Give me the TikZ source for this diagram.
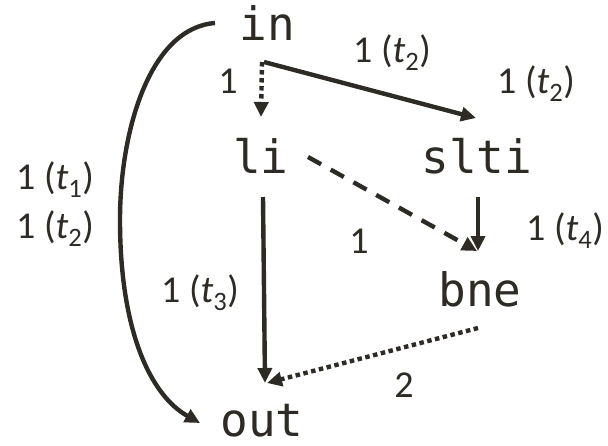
\documentclass[tikz,border=0pt]{standalone}
\usepackage{fontspec}
\setmainfont{Carlito}
\newfontfamily\codefont{DejaVu Sans Mono}
\usetikzlibrary{arrows.meta,calc}
\definecolor{ink}{HTML}{2E2A24}
\tikzset{
  code/.style={font=\codefont\fontsize{46}{50}\selectfont, text=ink, inner sep=0pt, anchor=base},
  lab/.style={font=\fontsize{38}{42}\selectfont, text=ink, inner sep=0pt, anchor=base},
  edge/.style={draw=ink, line width=4.4pt, -{Triangle[length=15pt,width=14pt]}},
  dots/.style={edge, dash pattern=on 4.5pt off 3.5pt},
  dashes/.style={edge, dash pattern=on 15pt off 11pt},
}
\newcommand{\tl}[1]{1 (\textit{t}\textsubscript{#1})}
\begin{document}
\begin{tikzpicture}[x=1pt,y=-1pt]
\useasboundingbox (0,0) rectangle (608,445);
\node[code] (in) at (267,40) {in};
\node[code] (li) at (261,173) {li};
\node[code] (slti) at (477,173) {slti};
\node[code] (bne) at (480,306) {bne};
\node[code] (out) at (262,436) {out};

\node[lab] (l1) at (392,62) {\tl{2}};
\node[lab] (l2) at (536,93) {\tl{2}};
\node[lab] (l3) at (228,93) {1};
\node[lab] (l4) at (55,189) {\tl{1}};
\node[lab] (l5) at (55,238) {\tl{2}};
\node[lab] (l6) at (565,240) {\tl{4}};
\node[lab] (l7) at (359,253) {1};
\node[lab] (l8) at (200,302) {\tl{3}};
\node[lab] (l9) at (404,397) {2};

\draw[dots] ($(in.base)+(-5,22)$) -- ($(li.base)+(0,-56)$);
\draw[edge] ($(in.base)+(-3,22)$) -- ($(slti.base)+(-1,-55)$);
\draw[dashes] ($(li.base)+(47,-16)$) -- ($(bne.base)+(-3,-55)$);
\draw[edge] ($(slti.base)+(1,24)$) -- ($(bne.base)+(-2,-55)$);
\draw[edge] ($(li.base)+(2,24)$) -- ($(out.base)+(3,-53)$);
\draw[dots] ($(bne.base)+(-2,22)$) -- ($(out.base)+(5,-53)$);
\draw[edge] ($(in.base)+(-52,-17)$) .. controls (150,28) and (120,130) .. (120,220)
  .. controls (120,330) and (150,395) .. ($(out.base)+(-62,-13)$);
\end{tikzpicture}
\end{document}
